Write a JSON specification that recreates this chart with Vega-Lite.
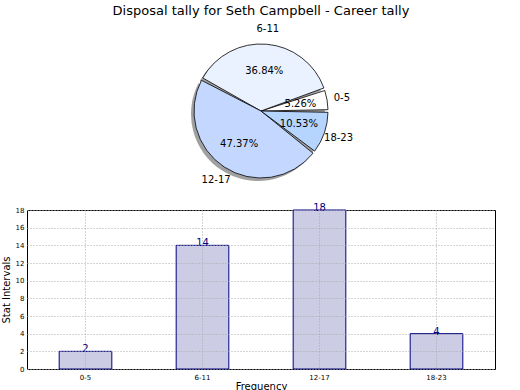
{
  "$schema": "https://vega.github.io/schema/vega-lite/v6.json",
  "padding": {"top": 5, "left": 0, "right": 0, "bottom": 0},
  "bounds": "flush",
  "spacing": 24,
  "config": {
    "font": "DejaVu Sans",
    "axis": {"labelColor": "black", "titleColor": "black", "titleFontWeight": "normal", "labelFont": "DejaVu Sans", "titleFont": "DejaVu Sans"},
    "title": {"font": "DejaVu Sans", "fontWeight": "normal", "color": "black"}
  },
  "datasets": {
    "tally": [
      {"cat": "0-5", "value": 2, "pct": "5.26%", "idx": 1},
      {"cat": "6-11", "value": 14, "pct": "36.84%", "idx": 2},
      {"cat": "12-17", "value": 18, "pct": "47.37%", "idx": 3},
      {"cat": "18-23", "value": 4, "pct": "10.53%", "idx": 4}
    ]
  },
  "vconcat": [
    {
      "width": 468,
      "height": 150,
      "view": {"stroke": null},
      "title": {"text": "Disposal tally for Seth Campbell - Career tally", "fontSize": 13, "anchor": "middle", "frame": "group", "offset": 6},
      "data": {"name": "tally"},
      "encoding": {
        "theta": {"field": "value", "type": "quantitative", "stack": true, "scale": {"range": [1.5708, -4.7124]}},
        "order": {"field": "idx", "type": "quantitative"}
      },
      "layer": [
        {
          "mark": {"type": "arc", "radius": 67, "padAngle": 0.04, "fill": "#777777", "opacity": 0.7, "xOffset": -3, "yOffset": 3}
        },
        {
          "mark": {"type": "arc", "radius": 67, "padAngle": 0.04, "stroke": "black", "strokeWidth": 0.8},
          "encoding": {
            "color": {"field": "cat", "type": "nominal", "legend": null,
              "scale": {"domain": ["0-5", "6-11", "12-17", "18-23"], "range": ["#ffffff", "#eaf1ff", "#c4d8ff", "#b5d5ff"]}}
          }
        },
        {
          "mark": {"type": "text", "radius": 40, "fontSize": 10, "color": "black"},
          "encoding": {"text": {"field": "pct", "type": "nominal"}}
        },
        {
          "mark": {"type": "text", "radius": 82, "fontSize": 10, "color": "black"},
          "encoding": {"text": {"field": "cat", "type": "nominal"}}
        }
      ]
    },
    {
      "width": 468,
      "height": 159,
      "view": {"stroke": "black", "strokeWidth": 1},
      "data": {"name": "tally"},
      "encoding": {
        "x": {"field": "cat", "type": "nominal", "sort": null,
          "scale": {"paddingInner": 0, "paddingOuter": 0},
          "axis": {"title": "Frequency", "titleFontSize": 10, "labelFontSize": 7, "labelAngle": 0, "labelPadding": 4, "tickSize": 0, "domain": false, "zindex": 1,
            "grid": true, "gridDash": [1, 2], "gridColor": "#aaaaaa", "bandPosition": 0.5, "titlePadding": 1}},
        "y": {"field": "value", "type": "quantitative",
          "scale": {"domain": [0, 18], "nice": false},
          "axis": {"title": "Stat Intervals", "titleFontSize": 10, "labelFontSize": 7, "labelPadding": 3, "tickSize": 0, "domain": false, "zindex": 1,
            "values": [0, 2, 4, 6, 8, 10, 12, 14, 16, 18], "grid": true, "gridDash": [1, 2], "gridColor": "#aaaaaa", "titlePadding": 4}}
      },
      "layer": [
        {"mark": {"type": "bar", "width": {"band": 0.45}, "fill": "#cccce5", "stroke": "#000080", "strokeWidth": 1}},
        {"mark": {"type": "text", "baseline": "alphabetic", "dy": 1, "fontSize": 10, "color": "#000080"},
          "encoding": {"text": {"field": "value", "type": "quantitative"}}}
      ]
    }
  ]
}
